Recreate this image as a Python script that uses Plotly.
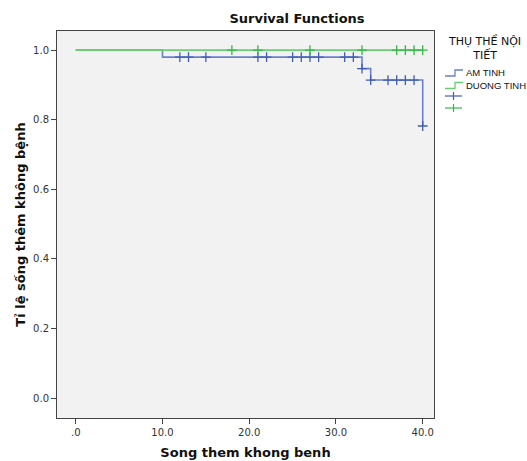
import plotly.graph_objects as go

# Step function (Kaplan-Meier) values
am_time = [0, 10, 33, 34, 40]
am_surv = [1.0, 0.98, 0.947, 0.914, 0.782]
duong_time = [0, 40]
duong_surv = [1.0, 1.0]

# Censored observation times
am_censor = [12, 13, 15, 21, 22, 25, 26, 27, 28, 31, 32, 33, 34, 36, 37, 38, 39, 40]
duong_censor = [18, 21, 27, 33, 37, 38, 39, 40]

group_names = ["AM TINH", "DUONG TINH"]
legend_title = "THỤ THỂ NỘI<br>TIẾT"

x_ticks = [0, 10, 20, 30, 40]
x_ticklabels = [".0", "10.0", "20.0", "30.0", "40.0"]
y_ticks = [0, 0.2, 0.4, 0.6, 0.8, 1.0]
y_ticklabels = ["0.0", "0.2", "0.4", "0.6", "0.8", "1.0"]

BLUE_LINE = "#6a82ca"
GREEN_LINE = "#6ccd75"
BLUE_MARK = "#3f5db5"
GREEN_MARK = "#33b845"


def step_value(times, surv, t):
    v = surv[0]
    for ti, si in zip(times, surv):
        if ti <= t:
            v = si
    return v


fig = go.Figure()
fig.add_trace(go.Scatter(x=am_time, y=am_surv, mode="lines",
                         line=dict(shape="hv", color=BLUE_LINE, width=1.6), name=group_names[0]))
fig.add_trace(go.Scatter(x=duong_time, y=duong_surv, mode="lines",
                         line=dict(shape="hv", color=GREEN_LINE, width=1.6), name=group_names[1]))
fig.add_trace(go.Scatter(x=am_censor, y=[step_value(am_time, am_surv, t) for t in am_censor], mode="markers",
                         marker=dict(symbol="cross-thin", size=7, line=dict(color=BLUE_MARK, width=1.3)),
                         name=group_names[0] + " censored"))
fig.add_trace(go.Scatter(x=duong_censor, y=[step_value(duong_time, duong_surv, t) for t in duong_censor],
                         mode="markers",
                         marker=dict(symbol="cross-thin", size=7, line=dict(color=GREEN_MARK, width=1.3)),
                         name=group_names[1] + " censored"))

# ---- manual legend (compact, SPSS-like) in paper coordinates ----
L, R, T, B = 57, 434, 31, 418
W, H = R - L, B - T


def px(x):
    return (x - L) / W


def py(y):
    return (B - y) / H


annotations = [
    dict(text=legend_title, x=px(485), y=py(48), xref="paper", yref="paper", xanchor="center", yanchor="middle",
         showarrow=False, align="center", font=dict(size=11, family="DejaVu Sans", color="#111111")),
]
shapes = []
item_y = [73, 85.5]
line_cols = [BLUE_LINE, GREEN_LINE]
mark_cols = [BLUE_MARK, GREEN_MARK]
for name, yy, col in zip(group_names, item_y, line_cols):
    path = "M {} {} L {} {} L {} {} L {} {}".format(px(445), py(yy + 3), px(455), py(yy + 3),
                                                    px(455), py(yy - 3), px(463), py(yy - 3))
    shapes.append(dict(type="path", path=path, xref="paper", yref="paper", line=dict(color=col, width=1.3)))
    annotations.append(dict(text=name, x=px(464), y=py(yy), xref="paper", yref="paper", xanchor="left",
                            yanchor="middle", showarrow=False,
                            font=dict(size=9.5, family="Liberation Sans", color="#111111")))
for yy, col in zip([96, 108], mark_cols):
    shapes.append(dict(type="line", x0=px(445), x1=px(462), y0=py(yy), y1=py(yy), xref="paper", yref="paper",
                       line=dict(color=col, width=1.2)))
    shapes.append(dict(type="line", x0=px(453.5), x1=px(453.5), y0=py(yy - 4), y1=py(yy + 4), xref="paper",
                       yref="paper", line=dict(color=col, width=1.2)))

axis_font = dict(family="DejaVu Sans", size=10, color="#333333")
fig.update_layout(
    width=527, height=461,
    margin=dict(l=L, r=527 - R, t=T, b=461 - B, autoexpand=False),
    paper_bgcolor="white",
    plot_bgcolor="#f2f2f2",
    font=dict(family="DejaVu Sans", color="#222222"),
    title=dict(text="<b>Survival Functions</b>", x=297 / 527, xanchor="center", y=1 - 18 / 461, yanchor="middle",
               font=dict(size=13, family="DejaVu Sans", color="#111111")),
    showlegend=False,
    annotations=annotations,
    shapes=shapes,
    xaxis=dict(range=[-2.16, 41.3], tickvals=x_ticks, ticktext=x_ticklabels, ticks="outside", ticklen=5,
               tickcolor="#444444", showgrid=False, zeroline=False, showline=True, linecolor="#444444",
               linewidth=1, mirror=True, tickfont=axis_font, automargin=False,
               title=dict(text="<b>Song them khong benh</b>",
                          font=dict(size=13, family="DejaVu Sans", color="#111111"), standoff=10)),
    yaxis=dict(range=[-0.057, 1.055], tickvals=y_ticks, ticktext=y_ticklabels, ticks="outside", ticklen=5,
               tickcolor="#444444", showgrid=False, zeroline=False, showline=True, linecolor="#444444",
               linewidth=1, mirror=True, tickfont=axis_font, automargin=False,
               title=dict(text="<b>Tỉ lệ sống thêm không bệnh</b>",
                          font=dict(size=13, family="DejaVu Sans", color="#111111"), standoff=4)),
)

fig.write_html("out.html", config={"displayModeBar": False},
               post_script="document.body.style.margin='0px';")
